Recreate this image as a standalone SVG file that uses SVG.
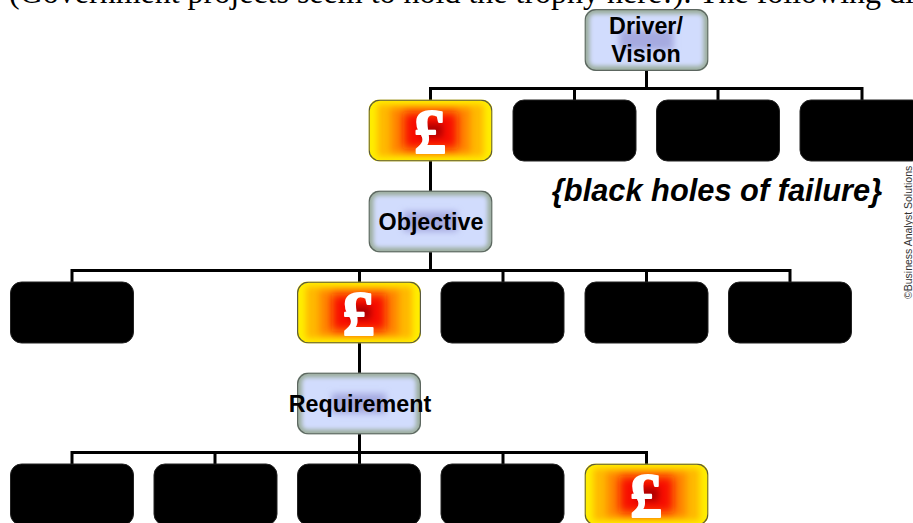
<svg xmlns="http://www.w3.org/2000/svg" xmlns:xlink="http://www.w3.org/1999/xlink" width="913" height="523" viewBox="0 0 913 523">
<style>
.bar{fill:none;stroke:#000;stroke-width:3}
.hole{fill:#000;stroke:#222;stroke-width:1}
.edge{fill:none;stroke:#5c6660;stroke-width:1.2}
.lab{font-family:"Liberation Sans",Arial,sans-serif;font-weight:bold;font-size:23.300px;fill:#000;text-anchor:middle}
.pound{font-family:"Liberation Serif","Times New Roman",serif;font-weight:bold;font-size:64px;fill:#fff;stroke:#fff;stroke-width:2;stroke-linejoin:round;text-anchor:middle}
</style>
<defs>
<filter id="b2" x="-40%" y="-60%" width="180%" height="220%"><feGaussianBlur stdDeviation="2"/></filter>
<filter id="b3" x="-40%" y="-60%" width="180%" height="220%"><feGaussianBlur stdDeviation="3"/></filter>
<filter id="b6" x="-40%" y="-60%" width="180%" height="220%"><feGaussianBlur stdDeviation="5"/></filter>
<clipPath id="rr"><rect x="0" y="0" width="124" height="62" rx="11"/></clipPath>
<symbol id="heat" viewBox="0 0 124 62" overflow="hidden">
<g clip-path="url(#rr)">
<rect width="124" height="62" fill="#ffee00"/>
<rect x="9" y="5" width="106" height="52" fill="#ffb800" filter="url(#b3)"/>
<rect x="22" y="9" width="80" height="44" fill="#ff8a00" filter="url(#b3)"/>
<rect x="35" y="13" width="54" height="36" fill="#f81000" filter="url(#b6)"/>
<rect x="52" y="24" width="22" height="14" fill="#b00000" filter="url(#b3)"/>
</g>
<rect x=".6" y=".6" width="122.800" height="60.800" rx="11" fill="none" stroke="#5a5a40" stroke-width="1.200"/>
</symbol>
<symbol id="steel" viewBox="0 0 124 62" overflow="hidden">
<g clip-path="url(#rr)">
<rect width="124" height="62" fill="#9cae9f"/>
<rect x="5" y="5" width="114" height="52" rx="5" fill="#d1dcfd" filter="url(#b2)"/>
<rect x="35" y="21" width="54" height="20" fill="#a6aae0" filter="url(#b3)"/>
</g>
<rect x=".6" y=".6" width="122.800" height="60.800" rx="11" class="edge"/>
</symbol>
</defs>
<text x="9" y="3" font-family="'Liberation Serif','Times New Roman',serif" font-size="32px" fill="#000">(Government projects seem to hold the trophy here!). The following di</text>
<g id="connectors">
<path class="bar" d="M646.500 70V88.500M430.500 100V88.500H862V100M574.500 88.500V100M718 88.500V100"/>
<path class="bar" d="M430.500 161V191M430.500 252V270.500"/>
<path class="bar" d="M72 282V270.500H790V282M359.500 270.500V282M503 270.500V282M646.500 270.500V282"/>
<path class="bar" d="M359.500 343V373M359.500 434V452.500"/>
<path class="bar" d="M72 464V452.500H646.500V464M215 452.500V464M359.500 452.500V464M503 452.500V464"/>
</g>
<g id="driver"><use xlink:href="#steel" href="#steel" x="584.500" y="9" width="124" height="62"/><text class="lab" x="646" y="34">Driver/</text><text class="lab" x="646" y="62">Vision</text></g>
<g id="cost1"><use xlink:href="#heat" href="#heat" x="368.500" y="99.500" width="124" height="62"/><text class="pound" x="430" y="153">£</text></g>
<g id="hole1"><rect class="hole" x="513" y="100" width="123" height="61" rx="11"/></g>
<g id="hole2"><rect class="hole" x="656.500" y="100" width="123" height="61" rx="11"/></g>
<g id="hole3"><rect class="hole" x="800" y="100" width="123" height="61" rx="11"/></g>
<g id="objective"><use xlink:href="#steel" href="#steel" x="368.500" y="190.500" width="124" height="62"/><text class="lab" x="431" y="230">Objective</text></g>
<g id="hole4"><rect class="hole" x="10.500" y="282" width="123" height="61" rx="11"/></g>
<g id="cost2"><use xlink:href="#heat" href="#heat" x="297" y="281.500" width="124" height="62"/><text class="pound" x="358.500" y="335">£</text></g>
<g id="hole5"><rect class="hole" x="441" y="282" width="123" height="61" rx="11"/></g>
<g id="hole6"><rect class="hole" x="585" y="282" width="123" height="61" rx="11"/></g>
<g id="hole7"><rect class="hole" x="728.500" y="282" width="123" height="61" rx="11"/></g>
<g id="requirement"><use xlink:href="#steel" href="#steel" x="297" y="372.500" width="124" height="62"/><text class="lab" x="360" y="412">Requirement</text></g>
<g id="hole8"><rect class="hole" x="10.500" y="464" width="123" height="61" rx="11"/></g>
<g id="hole9"><rect class="hole" x="154" y="464" width="123" height="61" rx="11"/></g>
<g id="hole10"><rect class="hole" x="297.500" y="464" width="123" height="61" rx="11"/></g>
<g id="hole11"><rect class="hole" x="441" y="464" width="123" height="61" rx="11"/></g>
<g id="cost3"><use xlink:href="#heat" href="#heat" x="584.500" y="463.500" width="124" height="62"/><text class="pound" x="646" y="517">£</text></g>
<text x="717" y="201" text-anchor="middle" font-family="'Liberation Sans',Arial,sans-serif" font-weight="bold" font-style="italic" font-size="30.800px" fill="#000">{black holes of failure}</text>
<text transform="translate(912 299) rotate(-90)" font-family="'Liberation Sans',Arial,sans-serif" font-size="10.500px" fill="#333">©Business Analyst Solutions</text>
</svg>
